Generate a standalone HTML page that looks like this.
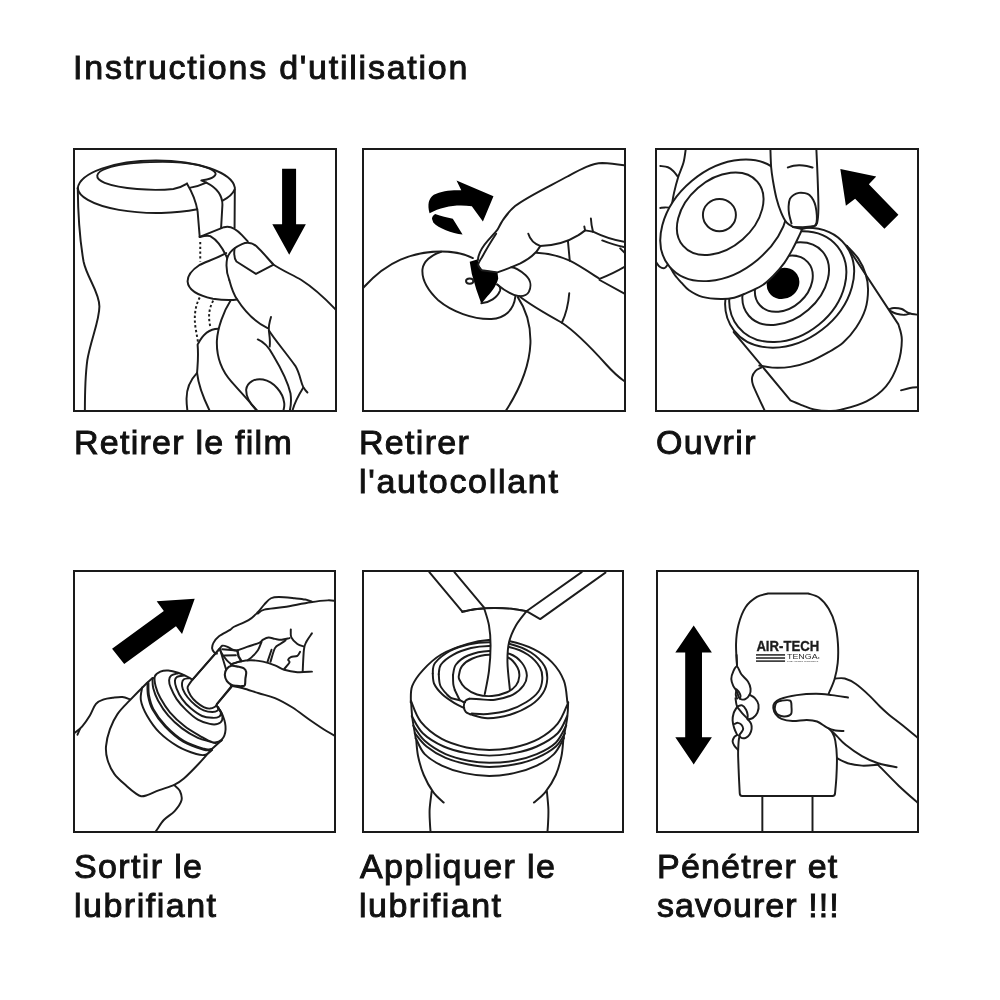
<!DOCTYPE html>
<html><head><meta charset="utf-8">
<style>
html,body{margin:0;padding:0;background:#fff;}
body{width:1000px;height:1000px;position:relative;overflow:hidden;font-family:"Liberation Sans",sans-serif;color:#111;}
.t{position:absolute;will-change:transform;white-space:nowrap;-webkit-text-stroke:0.95px #111;letter-spacing:1.4px;}
.title{left:73px;top:47px;font-size:34px;line-height:40px;letter-spacing:1.76px;}
.cap{font-size:34px;line-height:39px;}
.box{position:absolute;width:260px;height:260px;border:2px solid #1a1a1a;box-sizing:content-box;overflow:hidden;}
.box svg{position:absolute;left:-2px;top:-2px;width:264px;height:264px;}
.box svg path,.box svg ellipse,.box svg circle,.box svg line{fill:none;stroke:#1c1c1c;stroke-width:7.4;stroke-linecap:round;stroke-linejoin:round;}
.box svg .k{fill:#000;stroke:none;}
.box svg .w{fill:#fff;}
.box svg .d{stroke-dasharray:9 9;stroke-linecap:butt;}
</style></head><body>
<div class="t title">Instructions d'utilisation</div>
<div class="box" style="left:73px;top:148px;width:260px;height:260px"><svg style="left:-2px;top:-2px" viewBox="0 0 1000 1000">
<!-- cup -->
<path d="M18,152 A298,110 0 0 1 613,150 L612,302"/>
<path d="M18,152 A298,97 0 0 0 471,232"/>
<path d="M567,199 C590,188 606,172 612,158"/>
<path d="M18,152 C19,250 26,350 40,430 C52,490 100,545 100,600 C100,655 66,730 54,805 C46,865 45,930 45,1000"/>
<!-- inner ellipse -->
<path d="M432,135 C415,146 400,152 380,155 C300,164 180,155 120,132 C80,116 82,92 130,76 C200,52 380,44 470,64 C525,76 548,92 538,104 C532,112 520,117 507,119 L486,123 L505,131"/>
<!-- film strip -->
<path d="M432,135 C450,165 466,200 472,240 L480,337"/>
<path d="M445,150 C470,146 490,138 505,131 C535,146 566,170 566,215 L561,302"/>
<!-- band -->
<path d="M480,337 L572,300 C590,294 612,300 640,330 L662,354"/>
<path d="M480,337 C495,333 510,330 520,334 C545,348 570,385 584,417"/>
<path class="d" d="M482,356 L482,430"/>
<!-- index finger pad -->
<path d="M580,398 C540,420 500,432 478,444 C450,462 434,485 434,505 C436,535 470,558 530,571 C570,577 600,577 622,574"/>
<path class="d" d="M480,566 C462,600 458,640 464,680 L474,738"/>
<path class="d" d="M531,578 C514,610 512,640 520,676"/>
<!-- thumb -->
<path d="M592,500 C584,480 578,450 584,417 C592,392 612,376 640,364 C662,354 678,358 695,372 C720,395 745,428 760,442 C790,462 830,480 865,500 C920,535 960,575 998,615"/>
<path d="M612,381 C609,402 612,420 619,430 L693,477 L760,442"/>
<path d="M592,500 C600,530 612,560 622,574 C645,610 680,655 737,682"/>
<path d="M750,640 C744,660 740,675 742,692 C744,710 748,730 745,752"/>
<!-- second finger -->
<path d="M597,578 C570,620 548,680 545,730 C543,790 560,840 600,885 C640,930 672,965 702,1000"/>
<path d="M700,725 C725,735 742,755 758,785 C785,830 815,890 824,930 C828,960 824,985 820,1000"/>
<path d="M743,692 C760,720 800,768 842,825 C860,855 862,885 872,905 C878,915 884,922 888,926"/>
<path d="M872,908 C855,935 838,965 830,1000"/>
<!-- nail ellipse -->
<path d="M702,1000 C675,975 655,945 656,915 C660,885 690,872 720,877 C760,885 795,925 800,965 C802,980 798,992 795,1000"/>
<!-- third finger -->
<path d="M550,685 C520,685 492,705 472,745 C476,790 472,820 470,852 C474,890 495,950 520,1000"/>
<path d="M470,852 C445,878 430,915 430,950 C430,970 432,985 434,1000"/>
<!-- arrow -->
<path class="k" d="M792,79 L845,79 L845,289 L882,289 L819,404 L755,289 L792,289 Z"/>
</svg></div>
<div class="box" style="left:362px;top:148px;width:260px;height:260px"><svg style="left:-2px;top:-2px" viewBox="0 0 1000 1000">
<path class="k" d="M256,247 C247,215 252,190 272,177 C300,163 340,158 376,160 L358,123 L498,183 L458,278 L416,221 C365,212 305,220 256,247 Z"/>
<path class="k" d="M265,268 C266,260 270,254 277,250 C300,258 322,263 344,268 L381,328 C340,322 290,305 270,282 Z"/>
<!-- ball -->
<path d="M2,533 C40,490 95,445 146,423 C200,400 250,392 300,392 C350,392 390,402 420,417"/>
<path d="M590,565 C620,610 640,670 638,740 C634,830 600,910 545,995"/>
<!-- disk -->
<path d="M300,393 C262,405 232,430 229,460 C226,500 250,540 290,578 C340,620 420,650 490,648 C540,645 575,615 581,562"/>
<!-- sticker -->
<path class="k" d="M408,431 L439,421 L441,440 L454,461 L513,470 L516,494 C512,515 495,540 475,562 L452,590 L433,536 L416,477 Z"/>
<path d="M452,588 C483,586 512,567 523,540 C526,530 520,522 512,517"/>
<ellipse cx="408" cy="504" rx="14" ry="10"/>
<!-- index finger -->
<path d="M439,425 C440,400 455,375 479,348 C495,330 506,318 514,308 C525,285 545,250 580,220 C620,188 700,150 780,107 C830,80 870,58 910,57 C940,58 970,62 995,66"/>
<path d="M508,325 C495,345 470,385 454,415 C445,428 438,440 441,446 C444,452 448,458 454,463 L513,471 C540,462 566,452 600,437 C630,422 660,400 675,372"/>
<path d="M630,325 C636,345 650,362 675,371 C725,370 780,355 820,330 C832,322 840,316 845,312 C855,314 865,316 875,317 C905,332 950,348 995,356"/>
<path d="M842,297 L845,312"/>
<path d="M867,267 C868,285 871,302 875,317"/>
<path d="M780,352 L787,427"/>
<path d="M661,397 C700,398 750,410 787,427 C820,443 860,470 900,496 C935,482 965,468 995,450"/>
<path d="M910,350 C935,360 965,370 992,375"/>
<path d="M978,380 L998,400"/>
<path d="M900,500 L995,552"/>
<!-- thumb -->
<path d="M566,452 C580,452 600,465 620,482 C640,500 642,525 632,545 C625,558 612,562 595,561 C570,558 540,540 512,517"/>
<path d="M595,561 C625,585 690,625 757,662 C800,690 860,748 925,820 C950,848 975,870 995,884"/>
<path d="M785,550 C782,590 772,630 757,662"/>
</svg></div>
<div class="box" style="left:655px;top:148px;width:260px;height:260px"><svg style="left:-2px;top:-2px" viewBox="0 0 1000 1000">
<path d="M117.0,0.0 C115.5,9.2 112.8,36.7 108.0,55.0 C103.2,73.3 94.0,90.8 88.0,110.0 C82.0,129.2 76.0,152.5 72.0,170.0 C68.0,187.5 65.3,207.5 64.0,215.0"/>
<path d="M20.0,68.0 C24.8,68.8 40.7,69.7 49.0,73.0 C57.3,76.3 63.8,82.2 70.0,88.0 C76.2,93.8 83.3,104.7 86.0,108.0"/>
<path d="M20.0,227.0 C23.0,226.7 32.0,225.2 38.0,225.0 C44.0,224.8 53.0,225.8 56.0,226.0"/>
<path d="M4.0,432.0 C6.3,435.0 12.7,446.2 18.0,450.0 C23.3,453.8 31.0,456.3 36.0,455.0 C41.0,453.7 46.0,444.2 48.0,442.0"/>
<path d="M402.0,832.0 C398.5,834.0 386.7,838.0 381.0,844.0 C375.3,850.0 369.7,859.2 368.0,868.0 C366.3,876.8 366.5,883.2 371.0,897.0 C375.5,910.8 387.2,933.8 395.0,951.0 C402.8,968.2 414.2,991.8 418.0,1000.0"/>
<path d="M885.0,612.0 C888.3,611.0 896.7,606.3 905.0,606.0 C913.3,605.7 925.5,606.7 935.0,610.0 C944.5,613.3 951.2,622.3 962.0,626.0 C972.8,629.7 993.7,631.0 1000.0,632.0"/>
<path d="M890.0,616.0 C894.2,618.0 905.8,625.3 915.0,628.0 C924.2,630.7 936.7,632.2 945.0,632.0 C953.3,631.8 961.7,627.8 965.0,627.0"/>
<path d="M932.0,918.0 C937.7,916.5 954.7,911.0 966.0,909.0 C977.3,907.0 994.3,906.5 1000.0,906.0"/>
<path class="w" d="M298,697 L513,956  C521.0,959.3 546.2,970.3 561.0,976.0 C575.8,981.7 585.7,986.7 602.0,990.0 C618.3,993.3 641.8,995.8 659.0,996.0 C676.2,996.2 681.3,997.0 705.0,991.0 C728.7,985.0 772.7,974.7 801.0,960.0 C829.3,945.3 855.2,926.7 875.0,903.0 C894.8,879.3 910.0,847.3 920.0,818.0 C930.0,788.7 934.7,752.0 935.0,727.0 C935.3,702.0 924.2,677.8 922.0,668.0 L726,370 Z"/>
<path d="M726.0,370.0 C733.3,378.2 758.0,401.0 770.0,419.0 C782.0,437.0 791.8,458.3 798.0,478.0 C804.2,497.7 807.2,515.0 807.0,537.0 C806.8,559.0 804.5,586.2 797.0,610.0 C789.5,633.8 776.2,658.7 762.0,680.0 C747.8,701.3 729.2,722.7 712.0,738.0 C694.8,753.3 680.0,760.2 659.0,772.0 C638.0,783.8 610.3,799.5 586.0,809.0 C561.7,818.5 536.7,825.2 513.0,829.0 C489.3,832.8 463.7,832.8 444.0,832.0 C424.3,831.2 403.2,825.3 395.0,824.0"/>
<ellipse class="w" cx="510.0" cy="529.0" rx="266.0" ry="201.0" transform="rotate(-37.5 510.0 529.0)"/>
<ellipse cx="503.0" cy="525.0" rx="242.0" ry="186.0" transform="rotate(-39.0 503.0 525.0)"/>
<ellipse cx="495.0" cy="514.0" rx="185.0" ry="131.0" transform="rotate(-41.0 495.0 514.0)"/>
<ellipse cx="488.0" cy="514.0" rx="122.0" ry="92.0" transform="rotate(-42.0 488.0 514.0)"/>
<ellipse class="k" cx="485.0" cy="513.0" rx="63.5" ry="57.5" transform="rotate(-33.0 485.0 513.0)"/>
<path class="w" d="M58.0,452.0 C60.8,456.8 68.0,471.3 75.0,481.0 C82.0,490.7 91.0,500.3 100.0,510.0 C109.0,519.7 115.8,530.0 129.0,539.0 C142.2,548.0 158.8,558.5 179.0,564.0 C199.2,569.5 229.8,571.5 250.0,572.0 C270.2,572.5 285.3,570.2 300.0,567.0 C314.7,563.8 320.5,560.7 338.0,553.0 C355.5,545.3 386.3,532.8 405.0,521.0 C423.7,509.2 435.8,496.3 450.0,482.0 C464.2,467.7 478.3,451.2 490.0,435.0 C501.7,418.8 510.8,401.7 520.0,385.0 C529.2,368.3 538.8,348.0 545.0,335.0 C551.2,322.0 555.0,311.7 557.0,307.0 L497,273 L264,274 Z"/>
<ellipse class="w" cx="264.0" cy="274.0" rx="273.0" ry="194.5" transform="rotate(-40.0 264.0 274.0)"/>
<ellipse cx="247.0" cy="249.0" rx="186.0" ry="129.0" transform="rotate(-41.0 247.0 249.0)"/>
<ellipse cx="244.0" cy="254.0" rx="62.5" ry="61.0" transform="rotate(0.0 244.0 254.0)"/>
<path class="w" d="M437.0,0.0 C437.5,12.2 438.3,52.2 440.0,73.0 C441.7,93.8 443.7,105.5 447.0,125.0 C450.3,144.5 454.8,170.0 460.0,190.0 C465.2,210.0 471.7,229.7 478.0,245.0 C484.3,260.3 490.5,273.0 498.0,282.0 C505.5,291.0 518.8,296.2 523.0,299.0 L557,307 L602,296  C604.0,294.0 611.2,295.5 614.0,284.0 C616.8,272.5 618.7,255.3 619.0,227.0 C619.3,198.7 617.3,151.8 616.0,114.0 C614.7,76.2 611.8,19.0 611.0,0.0 Z"/>
<path d="M523,299 L560,300 L602,296"/>
<path d="M517.0,286.0 C515.5,280.0 509.8,260.7 508.0,250.0 C506.2,239.3 505.5,231.5 506.0,222.0 C506.5,212.5 507.8,200.3 511.0,193.0 C514.2,185.7 519.3,181.8 525.0,178.0 C530.7,174.2 537.8,171.2 545.0,170.0 C552.2,168.8 561.3,169.7 568.0,171.0 C574.7,172.3 579.7,173.5 585.0,178.0 C590.3,182.5 596.2,191.0 600.0,198.0 C603.8,205.0 605.8,210.5 608.0,220.0 C610.2,229.5 612.3,244.7 613.0,255.0 C613.7,265.3 613.2,275.5 612.0,282.0 C610.8,288.5 607.0,292.0 606.0,294.0"/>
<path d="M503.0,74.0 C506.7,72.8 517.5,68.5 525.0,67.0 C532.5,65.5 539.7,64.8 548.0,65.0 C556.3,65.2 566.8,66.5 575.0,68.0 C583.2,69.5 593.3,73.0 597.0,74.0"/>
<path class="k" d="M702,80 L838,108 L810,137 L922,253 L869,306 L758,192 L723,219 Z"/>
</svg></div>
<div class="box" style="left:73px;top:570px;width:259px;height:259px"><svg style="left:-2px;top:-2px" viewBox="0 0 1000 1000">
<path d="M216.0,490.0 C211.2,488.5 198.0,482.0 187.0,481.0 C176.0,480.0 161.7,482.5 150.0,484.0 C138.3,485.5 127.5,486.2 117.0,490.0 C106.5,493.8 95.8,496.8 87.0,507.0 C78.2,517.2 72.7,536.8 64.0,551.0 C55.3,565.2 44.2,581.3 35.0,592.0 C25.8,602.7 14.8,610.3 9.0,615.0 C3.2,619.7 1.5,619.2 0.0,620.0"/>
<path d="M26.0,603.0 C24.5,606.5 18.5,620.5 17.0,624.0"/>
<path d="M385.0,816.0 C388.3,819.5 400.7,827.7 405.0,837.0 C409.3,846.3 414.3,859.3 411.0,872.0 C407.7,884.7 396.2,900.5 385.0,913.0 C373.8,925.5 355.7,934.5 344.0,947.0 C332.3,959.5 321.8,979.2 315.0,988.0 C308.2,996.8 305.0,998.0 303.0,1000.0"/>
<path class="w" d="M301.0,409.0 C297.5,412.2 294.2,414.0 280.0,428.0 C265.8,442.0 234.5,473.5 216.0,493.0 C197.5,512.5 181.7,526.7 169.0,545.0 C156.3,563.3 147.3,582.5 140.0,603.0 C132.7,623.5 126.5,648.5 125.0,668.0 C123.5,687.5 125.7,702.5 131.0,720.0 C136.3,737.5 144.8,756.5 157.0,773.0 C169.2,789.5 190.2,806.5 204.0,819.0 C217.8,831.5 231.0,841.7 240.0,848.0 C249.0,854.3 251.8,856.0 258.0,857.0 C264.2,858.0 265.5,857.8 277.0,854.0 C288.5,850.2 309.0,840.8 327.0,834.0 C345.0,827.2 369.5,820.3 385.0,813.0 C400.5,805.7 404.5,803.5 420.0,790.0 C435.5,776.5 460.5,750.5 478.0,732.0 C495.5,713.5 517.2,687.8 525.0,679.0 L563,645 L449,418 Z"/>
<path d="M262.0,445.0 C261.2,453.0 254.0,475.3 257.0,493.0 C260.0,510.7 268.3,530.7 280.0,551.0 C291.7,571.3 307.5,595.5 327.0,615.0 C346.5,634.5 373.7,654.3 397.0,668.0 C420.3,681.7 449.5,691.7 467.0,697.0 C484.5,702.3 492.0,702.5 502.0,700.0 C512.0,697.5 522.8,685.0 527.0,682.0"/>
<path style="stroke-width:11" d="M284.0,428.0 C284.3,435.8 282.8,458.3 286.0,475.0 C289.2,491.7 292.3,508.5 303.0,528.0 C313.7,547.5 330.5,571.7 350.0,592.0 C369.5,612.3 395.7,635.5 420.0,650.0 C444.3,664.5 478.7,674.0 496.0,679.0 C513.3,684.0 519.3,679.8 524.0,680.0"/>
<path d="M301.0,412.0 C301.5,418.0 300.5,434.3 304.0,448.0 C307.5,461.7 312.5,476.7 322.0,494.0 C331.5,511.3 345.8,534.3 361.0,552.0 C376.2,569.7 394.3,586.0 413.0,600.0 C431.7,614.0 455.3,627.7 473.0,636.0 C490.7,644.3 507.8,646.8 519.0,650.0 C530.2,653.2 532.7,655.8 540.0,655.0 C547.3,654.2 559.2,646.7 563.0,645.0"/>
<path class="w" d="M310.0,403.0 C313.0,393.8 322.5,388.7 331.0,385.0 C339.5,381.3 349.8,380.3 361.0,381.0 C372.2,381.7 386.8,385.5 398.0,389.0 C409.2,392.5 419.0,397.5 428.0,402.0 C437.0,406.5 440.0,406.3 452.0,416.0 C464.0,425.7 484.8,443.8 500.0,460.0 C515.2,476.2 531.7,497.5 543.0,513.0 C554.3,528.5 562.2,538.0 568.0,553.0 C573.8,568.0 578.8,588.0 578.0,603.0 C577.2,618.0 571.3,634.8 563.0,643.0 C554.7,651.2 541.8,654.5 528.0,652.0 C514.2,649.5 497.7,638.2 480.0,628.0 C462.3,617.8 440.8,605.8 422.0,591.0 C403.2,576.2 382.2,556.7 367.0,539.0 C351.8,521.3 340.0,501.5 331.0,485.0 C322.0,468.5 316.5,453.7 313.0,440.0 C309.5,426.3 307.0,412.2 310.0,403.0 Z"/>
<path d="M398.0,391.0 C393.7,392.5 377.7,395.5 372.0,400.0 C366.3,404.5 364.3,410.5 364.0,418.0 C363.7,425.5 365.3,433.3 370.0,445.0 C374.7,456.7 382.3,473.8 392.0,488.0 C401.7,502.2 414.5,516.8 428.0,530.0 C441.5,543.2 458.0,558.2 473.0,567.0 C488.0,575.8 505.5,580.3 518.0,583.0 C530.5,585.7 540.2,585.5 548.0,583.0 C555.8,580.5 562.7,575.2 565.0,568.0 C567.3,560.8 565.3,548.8 562.0,540.0 C558.7,531.2 547.8,519.2 545.0,515.0"/>
<path d="M420.0,400.0 C415.7,400.8 399.7,401.7 394.0,405.0 C388.3,408.3 386.3,412.8 386.0,420.0 C385.7,427.2 387.5,436.7 392.0,448.0 C396.5,459.3 404.0,475.3 413.0,488.0 C422.0,500.7 433.3,513.2 446.0,524.0 C458.7,534.8 475.3,547.0 489.0,553.0 C502.7,559.0 517.3,559.5 528.0,560.0 C538.7,560.5 547.7,559.2 553.0,556.0 C558.3,552.8 560.5,546.7 560.0,541.0 C559.5,535.3 551.7,525.2 550.0,522.0"/>
<path d="M440.0,410.0 C436.7,410.7 424.5,411.0 420.0,414.0 C415.5,417.0 413.7,421.8 413.0,428.0 C412.3,434.2 412.5,442.0 416.0,451.0 C419.5,460.0 426.0,471.8 434.0,482.0 C442.0,492.2 453.8,503.7 464.0,512.0 C474.2,520.3 484.3,527.7 495.0,532.0 C505.7,536.3 519.2,538.0 528.0,538.0 C536.8,538.0 544.3,535.0 548.0,532.0 C551.7,529.0 549.7,522.0 550.0,520.0"/>
<path class="w" d="M452.0,416.0 C450.0,418.8 443.0,427.7 440.0,433.0 C437.0,438.3 433.0,440.8 434.0,448.0 C435.0,455.2 440.5,467.3 446.0,476.0 C451.5,484.7 458.8,492.8 467.0,500.0 C475.2,507.2 486.5,514.8 495.0,519.0 C503.5,523.2 510.8,525.2 518.0,525.0 C525.2,524.8 533.5,520.8 538.0,518.0 C542.5,515.2 543.8,509.7 545.0,508.0 L600,444 L556,297 Z"/>
<path d="M452,416 L556,298"/>
<path d="M545,508 L598,443"/>
<path d="M545.0,317.0 C543.3,316.2 538.0,315.3 535.0,312.0 C532.0,308.7 527.5,303.0 527.0,297.0 C526.5,291.0 527.7,283.7 532.0,276.0 C536.3,268.3 542.5,259.2 553.0,251.0 C563.5,242.8 585.5,233.0 595.0,227.0 C604.5,221.0 598.3,221.2 610.0,215.0 C621.7,208.8 650.0,199.2 665.0,190.0 C680.0,180.8 690.0,170.0 700.0,160.0 C710.0,150.0 716.7,138.8 725.0,130.0 C733.3,121.2 740.8,111.7 750.0,107.0 C759.2,102.3 765.0,102.0 780.0,102.0 C795.0,102.0 823.3,105.3 840.0,107.0 C856.7,108.7 869.2,109.8 880.0,112.0 C890.8,114.2 900.8,118.7 905.0,120.0"/>
<path d="M700.0,165.0 C704.2,162.5 708.3,154.2 725.0,150.0 C741.7,145.8 770.8,144.7 800.0,140.0 C829.2,135.3 872.5,126.2 900.0,122.0 C927.5,117.8 948.3,115.7 965.0,115.0 C981.7,114.3 994.2,117.5 1000.0,118.0"/>
<path d="M556.0,299.0 C557.5,297.0 560.5,288.5 565.0,287.0 C569.5,285.5 576.3,287.5 583.0,290.0 C589.7,292.5 598.3,299.3 605.0,302.0 C611.7,304.7 620.0,305.3 623.0,306.0"/>
<path style="stroke-width:9" d="M623,306 L627,327 L638,345"/>
<path d="M565,300 L620,305"/>
<path d="M574,324 L617,323"/>
<path d="M556.0,300.0 C557.5,303.0 560.5,311.0 565.0,318.0 C569.5,325.0 577.0,335.3 583.0,342.0 C589.0,348.7 598.0,355.3 601.0,358.0"/>
<path d="M604.0,355.0 C607.7,353.8 620.3,349.7 626.0,348.0 C631.7,346.3 636.0,345.5 638.0,345.0"/>
<path d="M623.0,305.0 C629.0,302.7 645.3,295.8 659.0,291.0 C672.7,286.2 694.8,280.5 705.0,276.0 C715.2,271.5 714.0,267.3 720.0,264.0 C726.0,260.7 733.5,256.5 741.0,256.0 C748.5,255.5 756.8,259.7 765.0,261.0 C773.2,262.3 780.8,264.5 790.0,264.0 C799.2,263.5 815.0,259.0 820.0,258.0"/>
<path d="M714.0,273.0 C711.8,278.0 706.7,294.0 701.0,303.0 C695.3,312.0 686.5,320.5 680.0,327.0 C673.5,333.5 665.0,339.5 662.0,342.0"/>
<path d="M752,302 L737,347"/>
<path d="M805.0,267.0 C801.7,269.2 791.7,275.2 785.0,280.0 C778.3,284.8 771.2,284.7 765.0,296.0 C758.8,307.3 750.8,339.3 748.0,348.0"/>
<path d="M825.0,225.0 C825.3,230.0 822.8,245.8 827.0,255.0 C831.2,264.2 842.0,274.2 850.0,280.0 C858.0,285.8 870.8,288.3 875.0,290.0"/>
<path d="M905.0,240.0 C901.7,245.0 890.0,260.0 885.0,270.0 C880.0,280.0 877.5,280.8 875.0,300.0 C872.5,319.2 870.8,370.8 870.0,385.0"/>
<path d="M860.0,310.0 C858.3,312.5 855.8,321.7 850.0,325.0 C844.2,328.3 830.8,327.5 825.0,330.0 C819.2,332.5 815.8,336.7 815.0,340.0 C814.2,343.3 822.5,344.2 820.0,350.0 C817.5,355.8 803.3,370.8 800.0,375.0"/>
<path d="M598.0,358.0 C603.7,356.2 619.3,349.7 632.0,347.0 C644.7,344.3 659.3,342.0 674.0,342.0 C688.7,342.0 704.8,343.8 720.0,347.0 C735.2,350.2 751.7,355.8 765.0,361.0 C778.3,366.2 785.8,373.7 800.0,378.0 C814.2,382.3 832.5,385.8 850.0,387.0 C867.5,388.2 895.8,385.3 905.0,385.0"/>
<path class="w" style="stroke-width:8" d="M600.0,363.0 C607.2,361.5 617.3,364.5 625.0,366.0 C632.7,367.5 640.8,368.7 646.0,372.0 C651.2,375.3 654.8,379.3 656.0,386.0 C657.2,392.7 653.8,403.7 653.0,412.0 C652.2,420.3 653.2,431.3 651.0,436.0 C648.8,440.7 645.2,439.5 640.0,440.0 C634.8,440.5 626.5,439.8 620.0,439.0 C613.5,438.2 607.2,438.0 601.0,435.0 C594.8,432.0 587.3,427.3 583.0,421.0 C578.7,414.7 575.2,404.7 575.0,397.0 C574.8,389.3 577.8,380.7 582.0,375.0 C586.2,369.3 592.8,364.5 600.0,363.0 Z"/>
<path d="M601.0,439.0 C608.2,440.5 626.8,443.3 644.0,448.0 C661.2,452.7 683.8,460.8 704.0,467.0 C724.2,473.2 744.0,476.2 765.0,485.0 C786.0,493.8 807.5,505.8 830.0,520.0 C852.5,534.2 878.3,555.0 900.0,570.0 C921.7,585.0 943.3,599.7 960.0,610.0 C976.7,620.3 993.3,628.3 1000.0,632.0"/>
<path class="k" d="M148,298 L344,155 L317,118 L461,109 L413,242 L390,213 L194,356 Z"/>
</svg></div>
<div class="box" style="left:362px;top:570px;width:258px;height:259px"><svg style="left:-2px;top:-2px" viewBox="0 0 1000 1000">
<path d="M205.1,639.8 C206.3,650.6 207.5,681.8 212.3,704.6 C217.1,727.4 224.3,753.8 233.9,776.5 C243.5,799.3 257.3,823.9 269.8,841.3 C282.4,858.7 302.8,874.3 309.4,880.9"/>
<path d="M762.8,639.8 C761.6,650.6 760.4,681.8 755.6,704.6 C750.8,727.4 744.2,753.8 734.1,776.5 C723.9,799.3 708.3,823.9 694.5,841.3 C680.7,858.7 658.5,874.3 651.3,880.9"/>
<path d="M264.1,837.7 C262.8,849.1 257.3,885.1 256.2,906.1 C255.1,927.1 256.9,947.8 257.6,963.7 C258.3,979.5 260.0,994.9 260.5,1001.1"/>
<path d="M700.2,837.7 C701.2,849.1 705.3,885.1 706.0,906.1 C706.7,927.1 705.3,947.8 704.5,963.7 C703.8,979.5 702.1,994.9 701.7,1001.1"/>
<path class="w" d="M185.0,500.0 C185.7,490.7 182.5,460.0 190.0,440.0 C197.5,420.0 211.7,400.0 230.0,380.0 C248.3,360.0 271.7,336.7 300.0,320.0 C328.3,303.3 370.0,289.2 400.0,280.0 C430.0,270.8 453.3,266.7 480.0,265.0 C506.7,263.3 531.7,264.2 560.0,270.0 C588.3,275.8 623.3,286.7 650.0,300.0 C676.7,313.3 700.8,330.0 720.0,350.0 C739.2,370.0 755.3,395.0 765.0,420.0 C774.7,445.0 775.4,486.2 778.0,500.0 C780.6,513.8 781.0,493.0 780.8,503.1 C780.7,513.2 780.0,539.0 777.2,560.6 C774.5,582.2 766.7,619.4 764.3,632.6 C761.9,645.8 769.1,629.0 762.8,639.8 C756.6,650.6 743.6,680.6 726.9,697.4 C710.1,714.2 687.3,728.6 662.1,740.6 C636.9,752.6 605.7,762.8 575.7,769.4 C545.7,776.0 513.3,780.1 482.2,780.1 C451.0,780.1 418.6,776.0 388.6,769.4 C358.6,762.8 327.4,752.6 302.2,740.6 C277.0,728.6 253.7,714.2 237.5,697.4 C221.3,680.6 210.8,650.6 205.1,639.8 C199.3,629.0 205.3,645.8 202.9,632.6 C200.5,619.4 193.6,583.4 190.7,560.6 C187.8,537.8 186.6,506.0 185.6,495.9 C184.7,485.8 184.3,509.3 185.0,500.0 Z"/>
<path d="M185.6,495.9 C191.9,509.1 203.6,551.0 223.1,575.0 C242.5,599.0 273.4,623.6 302.2,639.8 C331.0,656.0 365.8,665.2 395.8,672.2 C425.8,679.2 452.2,681.5 482.2,681.5 C512.1,681.5 544.5,679.2 575.7,672.2 C606.9,665.2 641.7,654.8 669.3,639.8 C696.9,624.8 722.7,605.0 741.3,582.2 C759.8,559.4 774.2,516.3 780.8,503.1"/>
<path d="M188.5,553.4 C195.5,564.2 210.1,599.0 230.3,618.2 C250.4,637.4 281.8,656.0 309.4,668.6 C337.0,681.2 367.0,688.0 395.8,693.8 C424.6,699.5 452.2,703.1 482.2,703.1 C512.1,703.1 545.7,699.5 575.7,693.8 C605.7,688.0 634.5,681.2 662.1,668.6 C689.7,656.0 722.1,637.4 741.3,618.2 C760.4,599.0 771.2,564.2 777.2,553.4"/>
<path d="M194.3,589.4 C201.5,599.0 217.1,629.0 237.5,647.0 C257.9,665.0 289.0,684.8 316.6,697.4 C344.2,710.0 375.4,717.2 403.0,722.6 C430.6,728.0 453.4,729.8 482.2,729.8 C510.9,729.8 545.7,728.0 575.7,722.6 C605.7,717.2 635.7,708.8 662.1,697.4 C688.5,686.0 715.5,672.2 734.1,654.2 C752.6,636.2 767.0,600.2 773.6,589.4"/>
<path d="M200.0,618.2 C207.5,626.6 225.2,653.0 244.7,668.6 C264.1,684.2 290.2,700.4 316.6,711.8 C343.0,723.2 375.4,731.2 403.0,737.0 C430.6,742.7 453.4,746.3 482.2,746.3 C510.9,746.3 545.7,742.7 575.7,737.0 C605.7,731.2 635.7,723.2 662.1,711.8 C688.5,700.4 716.3,684.2 734.1,668.6 C751.8,653.0 762.8,626.6 768.6,618.2"/>
<path d="M268.0,392.1 C269.4,385.4 265.6,366.5 276.5,352.3 C287.4,338.1 311.6,318.7 333.3,306.8 C355.1,295.0 382.6,286.8 407.2,281.3 C431.8,275.8 455.5,274.1 481.1,273.9 C506.6,273.7 534.1,273.7 560.6,280.1 C587.1,286.6 618.4,298.6 640.2,312.5 C661.9,326.5 681.1,346.6 691.3,363.7 C701.5,380.7 702.5,397.8 701.5,414.8 C700.6,431.9 695.9,449.8 685.6,465.9 C675.4,482.0 661.0,497.7 640.2,511.4 C619.3,525.1 588.1,540.0 560.6,548.3 C533.2,556.7 500.5,561.7 475.4,561.4 C450.3,561.1 420.9,549.1 410.0,546.6"/>
<path d="M268.0,392.1 C268.9,398.7 267.5,418.6 273.7,431.9 C279.8,445.1 292.1,459.6 304.9,471.6 C317.7,483.7 336.7,495.5 350.4,504.0 C364.1,512.5 381.2,519.6 387.3,522.8"/>
<path d="M290.7,394.9 C292.1,388.8 290.3,370.3 299.2,358.0 C308.2,345.7 325.8,331.5 344.7,321.1 C363.6,310.6 390.2,301.1 412.9,295.5 C435.6,289.9 456.4,288.0 481.1,287.5 C505.7,287.1 536.0,287.1 560.6,292.6 C585.2,298.2 609.9,308.3 628.8,321.1 C647.7,333.8 665.3,353.7 674.3,369.4 C683.3,385.0 683.7,399.7 682.8,414.8 C681.8,430.0 678.5,446.1 668.6,460.3 C658.6,474.5 642.1,488.2 623.1,500.0 C604.2,511.9 579.6,523.7 554.9,531.3 C530.3,538.9 498.6,543.4 475.4,545.5 C452.2,547.6 425.7,544.1 415.7,543.8"/>
<path d="M290.7,394.9 C291.7,402.0 291.2,424.7 296.4,437.5 C301.6,450.3 314.9,463.6 322.0,471.6 C329.1,479.7 336.2,483.5 339.0,485.8"/>
<path d="M339.0,485.8 L370.3,493.2 L351.5,454.6"/>
<path d="M370.3,493.2 C372.2,494.2 378.3,497.8 381.6,498.9 C385.0,500.0 388.7,499.8 390.2,500.0"/>
<path d="M344.7,397.8 C346.6,391.1 346.6,370.3 356.1,358.0 C365.5,345.7 380.7,332.4 401.5,323.9 C422.4,315.4 454.6,307.8 481.1,306.8 C507.6,305.9 539.8,310.6 560.6,318.2 C581.5,325.8 595.5,339.0 606.1,352.3 C616.7,365.6 623.3,383.6 624.3,397.8 C625.2,412.0 620.5,425.2 611.8,437.5 C603.0,449.8 590.0,462.6 572.0,471.6 C554.0,480.6 524.6,488.5 503.8,491.5 C483.0,494.5 463.1,490.5 447.0,489.8 C430.9,489.1 413.8,487.9 407.2,487.5"/>
<path d="M344.7,397.8 C344.9,403.4 344.7,422.4 345.8,431.9 C347.0,441.3 350.6,450.8 351.5,454.6"/>
<path d="M367.4,397.8 C369.1,389.2 370.3,374.1 378.8,363.7 C387.3,353.3 401.5,342.4 418.6,335.3 C435.6,328.2 458.3,321.5 481.1,321.1 C503.8,320.6 536.9,324.4 554.9,332.4 C572.9,340.5 582.2,357.5 589.0,369.4 C595.8,381.2 596.8,392.1 595.8,403.4 C594.9,414.8 591.1,427.6 583.3,437.5 C575.6,447.5 564.4,456.5 549.3,463.1 C534.1,469.7 511.4,475.9 492.4,477.3 C473.5,478.7 452.7,476.8 435.6,471.6 C418.6,466.4 401.3,455.5 390.2,446.1 C379.0,436.6 372.4,422.9 368.6,414.8 C364.8,406.8 365.7,406.3 367.4,397.8 Z"/>
<path d="M407.2,487.5 C404.6,488.9 395.5,490.6 391.9,495.5 C388.3,500.4 385.4,510.2 385.6,517.1 C385.8,524.0 388.9,532.0 393.0,537.0 C397.1,541.9 407.2,545.0 410.0,546.6"/>
<path d="M255,8 L380,158"/>
<path d="M350,8 L465,145"/>
<path d="M380.0,158.0 C389.3,156.3 416.0,150.3 436.0,148.0 C456.0,145.7 478.7,144.2 500.0,144.0 C521.3,143.8 543.5,145.0 564.0,147.0 C584.5,149.0 613.2,154.5 623.0,156.0"/>
<path d="M832,8 L623,156 L675,186 L922,10"/>
<path class="w" style="stroke:none" d="M462.0,143.0 C465.2,154.2 476.8,186.2 481.0,210.0 C485.2,233.8 487.0,257.3 487.0,286.0 C487.0,314.7 484.7,351.3 481.0,382.0 C477.3,412.7 467.7,455.3 465.0,470.0 L560.0,452.0  C558.5,435.0 551.5,379.7 551.0,350.0 C550.5,320.3 551.7,297.3 557.0,274.0 C562.3,250.7 572.0,229.7 583.0,210.0 C594.0,190.3 616.3,165.0 623.0,156.0  C613.2,154.5 584.5,149.0 564.0,147.0 C543.5,145.0 517.0,144.7 500.0,144.0 C483.0,143.3 468.3,143.2 462.0,143.0 Z"/>
<path d="M462.0,143.0 C465.2,154.2 476.8,186.2 481.0,210.0 C485.2,233.8 487.0,257.3 487.0,286.0 C487.0,314.7 484.7,351.3 481.0,382.0 C477.3,412.7 467.7,455.3 465.0,470.0"/>
<path d="M560.0,452.0 C558.5,435.0 551.5,379.7 551.0,350.0 C550.5,320.3 551.7,297.3 557.0,274.0 C562.3,250.7 572.0,229.7 583.0,210.0 C594.0,190.3 616.3,165.0 623.0,156.0"/>
<path d="M380.0,158.0 C389.3,156.3 416.0,150.3 436.0,148.0 C456.0,145.7 478.7,144.2 500.0,144.0 C521.3,143.8 543.5,145.0 564.0,147.0 C584.5,149.0 613.2,154.5 623.0,156.0"/>
</svg></div>
<div class="box" style="left:656px;top:570px;width:259px;height:259px"><svg style="left:-3px;top:-2px" viewBox="0 0 1000 1000">
<path d="M683.0,411.0 C689.0,411.0 706.0,407.5 719.0,411.0 C732.0,414.5 745.8,421.5 761.0,432.0 C776.2,442.5 794.8,459.8 810.0,474.0 C825.2,488.2 839.7,505.0 852.0,517.0 C864.3,529.0 869.3,533.8 884.0,546.0 C898.7,558.2 920.7,574.3 940.0,590.0 C959.3,605.7 990.0,631.7 1000.0,640.0"/>
<path d="M689.0,713.0 C695.8,716.2 714.2,727.3 730.0,732.0 C745.8,736.7 764.8,740.0 784.0,741.0 C803.2,742.0 834.8,738.5 845.0,738.0"/>
<path d="M672.0,612.0 C675.0,615.0 681.7,621.7 690.0,630.0 C698.3,638.3 706.3,649.5 722.0,662.0 C737.7,674.5 763.5,693.3 784.0,705.0 C804.5,716.7 823.2,725.0 845.0,732.0 C866.8,739.0 903.3,744.5 915.0,747.0"/>
<path d="M845.0,738.0 C858.0,751.2 897.2,792.3 923.0,817.0 C948.8,841.7 987.2,874.5 1000.0,886.0"/>
<path d="M406.6,856 L406.6,1000"/>
<path d="M596.6,856 L596.6,1000"/>
<path class="w" style="stroke:none" d="M311.0,368.0 C310.3,353.3 306.2,306.7 307.0,280.0 C307.8,253.3 310.0,231.2 316.0,208.0 C322.0,184.8 331.3,158.7 343.0,141.0 C354.7,123.3 371.8,110.7 386.0,102.0 C400.2,93.3 421.0,91.2 428.0,89.0 L580,89  C587.0,91.7 609.0,95.3 622.0,105.0 C635.0,114.7 647.8,129.8 658.0,147.0 C668.2,164.2 677.2,185.8 683.0,208.0 C688.8,230.2 691.5,255.8 693.0,280.0 C694.5,304.2 694.2,330.7 692.0,353.0 C689.8,375.3 685.7,394.8 680.0,414.0 C674.3,433.2 661.7,459.0 658.0,468.0 L645,589  C649.5,593.5 665.7,606.3 672.0,616.0 C678.3,625.7 680.2,631.5 683.0,647.0 C685.8,662.5 688.3,685.8 689.0,709.0 C689.7,732.2 688.2,763.2 687.0,786.0 C685.8,808.8 682.8,836.0 682.0,846.0 Q682,856 672,856 L330,856 Q321,856 321,846  C320.5,836.0 319.0,808.8 318.0,786.0 C317.0,763.2 315.5,726.5 315.0,709.0 C314.5,691.5 315.0,685.7 315.0,681.0 L311,368 Z"/>
<path d="M311.0,368.0 C310.3,353.3 306.2,306.7 307.0,280.0 C307.8,253.3 310.0,231.2 316.0,208.0 C322.0,184.8 331.3,158.7 343.0,141.0 C354.7,123.3 371.8,110.7 386.0,102.0 C400.2,93.3 421.0,91.2 428.0,89.0 L580,89  C587.0,91.7 609.0,95.3 622.0,105.0 C635.0,114.7 647.8,129.8 658.0,147.0 C668.2,164.2 677.2,185.8 683.0,208.0 C688.8,230.2 691.5,255.8 693.0,280.0 C694.5,304.2 694.2,330.7 692.0,353.0 C689.8,375.3 685.7,394.8 680.0,414.0 C674.3,433.2 661.7,459.0 658.0,468.0 L645,589  C649.5,593.5 665.7,606.3 672.0,616.0 C678.3,625.7 680.2,631.5 683.0,647.0 C685.8,662.5 688.3,685.8 689.0,709.0 C689.7,732.2 688.2,763.2 687.0,786.0 C685.8,808.8 682.8,836.0 682.0,846.0 Q682,856 672,856 L330,856 Q321,856 321,846  C320.5,836.0 319.0,808.8 318.0,786.0 C317.0,763.2 315.5,726.5 315.0,709.0 C314.5,691.5 315.0,685.7 315.0,681.0"/>
<path d="M309,322 L311,368"/>
<path class="w" style="stroke:none" d="M731.0,483.0 C720.8,481.5 690.2,476.3 670.0,474.0 C649.8,471.7 632.2,469.0 610.0,469.0 C587.8,469.0 559.8,470.7 537.0,474.0 C514.2,477.3 487.2,483.8 473.0,489.0 C458.8,494.2 456.2,499.5 452.0,505.0 C447.8,510.5 447.2,515.2 448.0,522.0 C448.8,528.8 451.8,539.0 457.0,546.0 C462.2,553.0 468.3,559.7 479.0,564.0 C489.7,568.3 505.0,571.3 521.0,572.0 C537.0,572.7 559.5,567.7 575.0,568.0 C590.5,568.3 601.2,569.2 614.0,574.0 C626.8,578.8 640.5,591.3 652.0,597.0 C663.5,602.7 672.7,605.8 683.0,608.0 C693.3,610.2 708.8,609.7 714.0,610.0 L760,560 Z"/>
<path d="M731.0,483.0 C720.8,481.5 690.2,476.3 670.0,474.0 C649.8,471.7 632.2,469.0 610.0,469.0 C587.8,469.0 559.8,470.7 537.0,474.0 C514.2,477.3 487.2,483.8 473.0,489.0 C458.8,494.2 456.2,499.5 452.0,505.0 C447.8,510.5 447.2,515.2 448.0,522.0 C448.8,528.8 451.8,539.0 457.0,546.0 C462.2,553.0 468.3,559.7 479.0,564.0 C489.7,568.3 505.0,571.3 521.0,572.0 C537.0,572.7 559.5,567.7 575.0,568.0 C590.5,568.3 601.2,569.2 614.0,574.0 C626.8,578.8 640.5,591.3 652.0,597.0 C663.5,602.7 672.7,605.8 683.0,608.0 C693.3,610.2 708.8,609.7 714.0,610.0"/>
<path d="M454.5,516.0 C455.4,510.8 456.5,505.5 460.6,502.0 C464.7,498.5 470.4,496.2 479.0,495.0 C487.6,493.8 505.7,491.0 512.0,495.0 C518.3,499.0 516.5,510.5 517.0,519.0 C517.5,527.5 519.3,540.0 515.0,546.0 C510.7,552.0 499.0,554.5 491.0,555.0 C483.0,555.5 473.0,552.7 467.0,549.0 C461.0,545.3 457.1,538.5 455.0,533.0 C452.9,527.5 453.6,521.2 454.5,516.0 Z"/>
<path class="w" d="M311.0,366.0 C316.0,368.0 320.2,385.7 327.0,395.0 C333.8,404.3 346.2,413.0 352.0,422.0 C357.8,431.0 361.0,440.5 362.0,449.0 C363.0,457.5 361.3,466.3 358.0,473.0 C354.7,479.7 347.2,486.2 342.0,489.0 C336.8,491.8 331.0,491.0 327.0,490.0 C323.0,489.0 321.0,488.3 318.0,483.0 C315.0,477.7 312.5,465.2 309.0,458.0 C305.5,450.8 300.3,447.5 297.0,440.0 C293.7,432.5 289.0,422.5 289.0,413.0 C289.0,403.5 293.3,390.8 297.0,383.0 C300.7,375.2 306.0,364.0 311.0,366.0 Z"/>
<path d="M309.0,452.0 C310.5,453.7 315.5,457.8 318.0,462.0 C320.5,466.2 323.5,472.8 324.0,477.0 C324.5,481.2 321.5,485.3 321.0,487.0"/>
<path d="M308.0,455.0 C307.7,458.0 305.5,467.7 306.0,473.0 C306.5,478.3 310.2,484.7 311.0,487.0"/>
<path d="M358.0,473.0 C361.5,475.2 373.3,479.8 379.0,486.0 C384.7,492.2 390.5,501.0 392.0,510.0 C393.5,519.0 391.7,531.5 388.0,540.0 C384.3,548.5 376.0,556.7 370.0,561.0 C364.0,565.3 355.0,565.2 352.0,566.0"/>
<path d="M305.0,486.0 C305.5,489.5 306.8,501.5 308.0,507.0 C309.2,512.5 311.3,517.0 312.0,519.0"/>
<path d="M312.0,517.0 C315.0,516.3 324.5,511.0 330.0,513.0 C335.5,515.0 341.5,523.0 345.0,529.0 C348.5,535.0 350.2,543.0 351.0,549.0 C351.8,555.0 350.2,562.3 350.0,565.0"/>
<path d="M312.0,520.0 C315.0,523.7 323.7,534.8 330.0,542.0 C336.3,549.2 346.7,559.5 350.0,563.0"/>
<path d="M310.0,520.0 C308.0,523.7 300.7,533.7 298.0,542.0 C295.3,550.3 293.7,560.5 294.0,570.0 C294.3,579.5 297.2,590.0 300.0,599.0 C302.8,608.0 309.2,619.8 311.0,624.0"/>
<path d="M352.0,566.0 C354.0,568.8 361.7,577.1 364.0,583.0 C366.3,588.9 366.8,595.0 366.0,601.5 C365.2,608.0 362.4,616.5 359.0,622.0 C355.6,627.5 350.4,632.0 345.5,634.5 C340.6,637.0 333.8,637.9 329.6,637.0 C325.4,636.1 322.0,630.3 320.5,629.0"/>
<path d="M302.0,583.0 C304.0,582.3 309.8,578.6 314.0,579.0 C318.2,579.4 323.7,581.9 327.0,585.6 C330.3,589.4 334.0,596.6 334.0,601.5 C334.0,606.4 329.7,610.8 327.0,615.0 C324.3,619.2 319.5,624.6 318.0,626.5"/>
<path d="M311.0,625.0 C309.2,626.3 302.8,629.0 300.0,633.0 C297.2,637.0 294.0,643.7 294.0,649.0 C294.0,654.3 296.7,659.7 300.0,665.0 C303.3,670.3 311.7,678.3 314.0,681.0"/>
<path d="M320.5,629.0 C319.9,632.0 317.9,638.3 317.0,647.0 C316.1,655.7 315.3,675.3 315.0,681.0"/>
<g style="filter:grayscale(1)">
<text x="384" y="305" textLength="238" lengthAdjust="spacingAndGlyphs" style="font:bold 52px 'Liberation Sans',sans-serif;fill:#1c1c1c;stroke:#1c1c1c;stroke-width:1.2">AIR-TECH</text>
<rect x="382.6" y="318.5" width="110" height="6.2" style="fill:#333;stroke:none"/>
<rect x="382.6" y="330.3" width="110" height="6.2" style="fill:#333;stroke:none"/>
<rect x="382.6" y="342.0" width="110" height="6.2" style="fill:#333;stroke:none"/>
<text x="500" y="335.5" textLength="116" lengthAdjust="spacingAndGlyphs" style="font:27px 'Liberation Sans',sans-serif;fill:#2a2a2a;stroke:none">TENGA</text>
<circle cx="620" cy="333" r="2.6" style="fill:#2a2a2a;stroke:none"/>
<text x="500" y="348.5" textLength="118" lengthAdjust="spacingAndGlyphs" style="font:bold 9px 'Liberation Sans',sans-serif;fill:#555;stroke:none">THE ADULT CONCEPT</text>
</g>
<path class="k" d="M146.6,210.6 L215.5,312.5 L178,312.5 L178,633.3 L215.5,633.3 L146.6,736.4 L76.9,633.3 L114.4,633.3 L114.4,312.5 L76.9,312.5 Z"/>
</svg></div>
<div class="t cap" style="left:74px;top:422.5px;letter-spacing:1.25px">Retirer le film</div>
<div class="t cap" style="left:359px;top:422.5px;letter-spacing:1.3px">Retirer</div>
<div class="t cap" style="left:359px;top:462px;letter-spacing:1.7px">l'autocollant</div>
<div class="t cap" style="left:656px;top:422.5px;letter-spacing:1.4px">Ouvrir</div>
<div class="t cap" style="left:74px;top:846.7px;letter-spacing:1.35px">Sortir le</div>
<div class="t cap" style="left:74px;top:885.5px;letter-spacing:1.5px">lubrifiant</div>
<div class="t cap" style="left:359.5px;top:846.7px;letter-spacing:1.4px">Appliquer le</div>
<div class="t cap" style="left:359px;top:885.5px;letter-spacing:1.5px">lubrifiant</div>
<div class="t cap" style="left:656.5px;top:846.7px;letter-spacing:1.2px">Pénétrer et</div>
<div class="t cap" style="left:657px;top:885.5px;letter-spacing:1.05px">savourer !!!</div>
</body></html>
